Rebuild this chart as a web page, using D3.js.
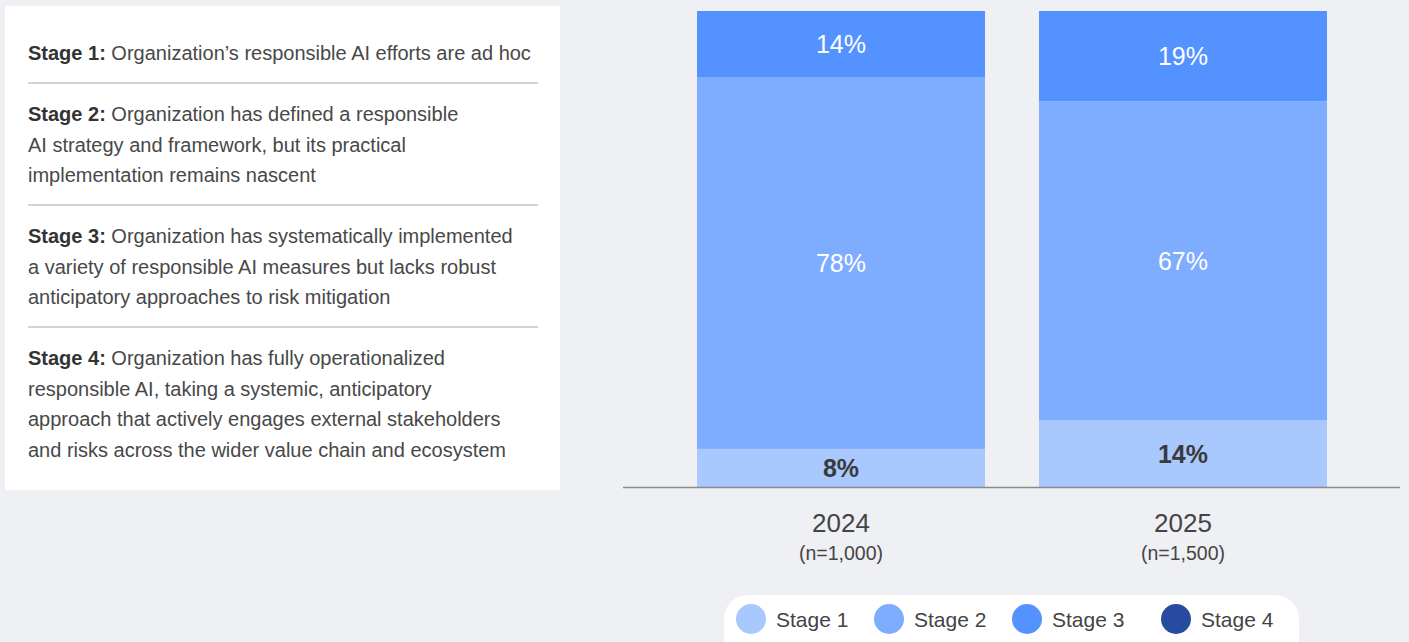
<!DOCTYPE html>
<html>
<head>
    <meta charset="UTF-8" />
    <title>responsible AI stages</title>
    <style>
        body {
            margin: 0;
            padding: 0;
            background-color: #eff0f4;
            font-family: 'Liberation Sans', Arial, Helvetica, sans-serif;
        }
        svg { display: block; }
    </style>
</head>
<body>
    <div class="container"></div>

    <script src="https://cdnjs.cloudflare.com/ajax/libs/d3/7.8.5/d3.min.js"></script>
    <script>
        const years = ['2024', '2025']
        const sampleSizes = ['(n=1,000)', '(n=1,500)']
        const stages = ['Stage 1', 'Stage 2', 'Stage 3', 'Stage 4']
        const stage1 = [8, 14]
        const stage2 = [78, 67]
        const stage3 = [14, 19]
        const stage4 = [0, 0]
        const stageColors = ['#a9c8fe', '#7eacff', '#5493ff', '#264b9f']

        const descriptions = [
            ['Stage 1:', ['Organization’s responsible AI efforts are ad hoc']],
            ['Stage 2:', ['Organization has defined a responsible', 'AI strategy and framework, but its practical', 'implementation remains nascent']],
            ['Stage 3:', ['Organization has systematically implemented', 'a variety of responsible AI measures but lacks robust', 'anticipatory approaches to risk mitigation']],
            ['Stage 4:', ['Organization has fully operationalized', 'responsible AI, taking a systemic, anticipatory', 'approach that actively engages external stakeholders', 'and risks across the wider value chain and ecosystem']]
        ]

        const width = 1409, height = 642

        const svg = d3.select('.container').append('svg')
            .attr('width', width)
            .attr('height', height)

        // ---- left description panel
        const panel = svg.append('g')
        panel.append('rect')
            .attr('x', 5).attr('y', 6)
            .attr('width', 555).attr('height', 484)
            .attr('fill', '#fff')

        const blockTops = [60, 121, 243, 365]
        const lineH = 30.6
        descriptions.forEach(([head, lines], i) => {
            const t = panel.append('text')
                .attr('x', 28)
                .attr('y', blockTops[i])
                .attr('font-size', 20)
                .attr('fill', '#484848')
            lines.forEach((ln, j) => {
                const ts = t.append('tspan').attr('x', 28).attr('dy', j === 0 ? 0 : lineH)
                if (j === 0) {
                    ts.append('tspan').attr('font-weight', 'bold').attr('fill', '#333').text(head + ' ')
                    ts.append('tspan').text(ln)
                } else {
                    ts.text(ln)
                }
            })
            if (i < 3) {
                const yLine = [83, 205, 327][i]
                panel.append('line')
                    .attr('x1', 28).attr('x2', 538)
                    .attr('y1', yLine).attr('y2', yLine)
                    .attr('stroke', '#a8a8a8').attr('stroke-width', 1.2)
            }
        })

        // ---- stacked bars
        const table = years.map((yr, i) => ({
            year: yr, n: sampleSizes[i],
            'Stage 1': stage1[i], 'Stage 2': stage2[i], 'Stage 3': stage3[i], 'Stage 4': stage4[i]
        }))
        const series = d3.stack().keys(stages)(table)

        const x = d3.scaleBand().domain(years).range([697, 1327]).paddingInner(54 / 342).paddingOuter(0)
        const y = d3.scaleLinear().domain([0, 100]).range([487, 11])
        const color = d3.scaleOrdinal().domain(stages).range(stageColors)

        const layers = svg.append('g')
            .selectAll('g')
            .data(series)
            .join('g')
            .attr('fill', d => color(d.key))

        layers.selectAll('rect')
            .data(d => d.filter(s => s[1] - s[0] > 0))
            .join('rect')
            .attr('x', d => x(d.data.year))
            .attr('y', d => y(d[1]))
            .attr('width', x.bandwidth())
            .attr('height', d => y(d[0]) - y(d[1]))

        layers.each(function (s) {
            const isFirst = s.key === 'Stage 1'
            d3.select(this).selectAll('text')
                .data(s.filter(d => d[1] - d[0] > 0))
                .join('text')
                .attr('x', d => x(d.data.year) + x.bandwidth() / 2)
                .attr('y', d => (y(d[0]) + y(d[1])) / 2)
                .attr('dy', '0.36em')
                .attr('text-anchor', 'middle')
                .attr('font-size', 25)
                .attr('font-weight', isFirst ? 'bold' : 'normal')
                .attr('fill', isFirst ? '#3a3a3a' : '#fff')
                .text(d => (d[1] - d[0]) + '%')
        })

        // baseline
        svg.append('line')
            .attr('x1', 623).attr('x2', 1400)
            .attr('y1', y(0) + 0.5).attr('y2', y(0) + 0.5)
            .attr('stroke', '#8a8a8a').attr('stroke-width', 1.5)

        // x labels
        const xl = svg.append('g')
            .selectAll('g')
            .data(table)
            .join('g')
            .attr('transform', d => `translate(${x(d.year) + x.bandwidth() / 2},0)`)
        xl.append('text')
            .attr('y', 532).attr('text-anchor', 'middle')
            .attr('font-size', 26).attr('fill', '#444')
            .text(d => d.year)
        xl.append('text')
            .attr('y', 560).attr('text-anchor', 'middle')
            .attr('font-size', 19.5).attr('fill', '#444')
            .text(d => d.n)

        // ---- legend
        const legend = svg.append('g')
        legend.append('rect')
            .attr('x', 724).attr('y', 595)
            .attr('width', 575).attr('height', 70)
            .attr('rx', 24)
            .attr('fill', '#fff')
        const legX = [751, 889, 1027, 1176]
        const items = legend.selectAll('g.item')
            .data(stages)
            .join('g')
            .attr('class', 'item')
            .attr('transform', (d, i) => `translate(${legX[i]},619)`)
        items.append('circle')
            .attr('r', 15)
            .attr('fill', d => color(d))
        items.append('text')
            .attr('x', 25).attr('dy', '0.36em')
            .attr('font-size', 21).attr('fill', '#444')
            .text(d => d)
    </script>
</body>
</html>
